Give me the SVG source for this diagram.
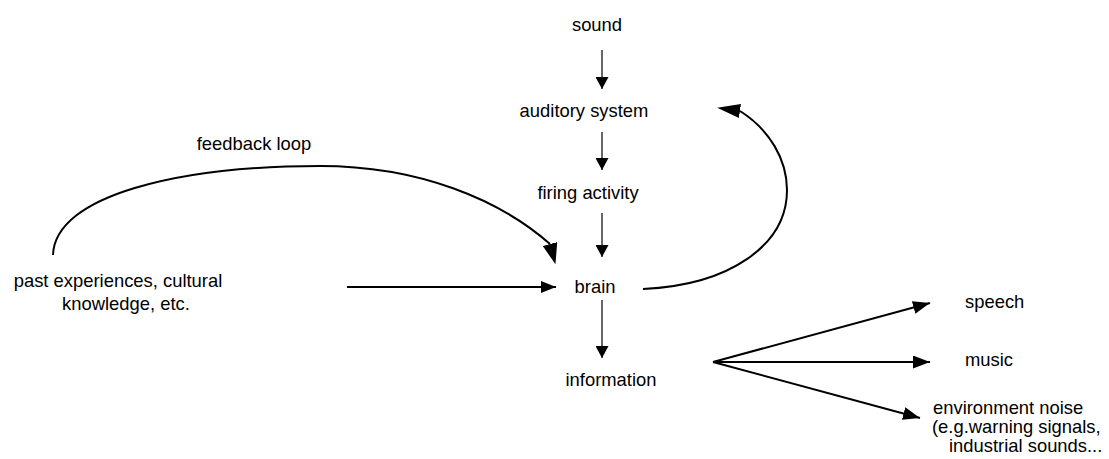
<svg xmlns="http://www.w3.org/2000/svg" width="1109" height="459" viewBox="0 0 1109 459">
<defs>
<style>
text{font-family:"Liberation Sans",Arial,sans-serif;font-size:18.4px;fill:#000}
.c{text-anchor:middle}
.l{fill:none;stroke:#000;stroke-width:1.2}
.t{fill:none;stroke:#000;stroke-width:2}
</style>
<marker id="a" viewBox="0 0 12 13" refX="12" refY="6.5" markerWidth="12" markerHeight="13" markerUnits="userSpaceOnUse" orient="auto"><path d="M0,0 L12,6.5 L0,13 Z" fill="#000"/></marker>
<marker id="b" viewBox="0 0 17 13" refX="17" refY="6.5" markerWidth="17" markerHeight="13" markerUnits="userSpaceOnUse" orient="auto"><path d="M0,0 L17,6.5 L0,13 Z" fill="#000"/></marker>
<marker id="h" viewBox="0 0 15 12" refX="15" refY="6" markerWidth="15" markerHeight="12" markerUnits="userSpaceOnUse" orient="auto"><path d="M0,0 L15,6 L0,12 Z" fill="#000"/></marker>
<marker id="f" viewBox="0 0 21 15" refX="0" refY="7.5" markerWidth="21" markerHeight="15" markerUnits="userSpaceOnUse" orient="75"><path d="M0,0 L21,7.5 L0,15 Z" fill="#000"/></marker>
<marker id="r" viewBox="0 0 23 14" refX="0" refY="7" markerWidth="23" markerHeight="14" markerUnits="userSpaceOnUse" orient="188"><path d="M0,0 L23,7 L0,14 Z" fill="#000"/></marker>
</defs>
<rect width="1109" height="459" fill="#fff"/>
<g id="sound"><text class="c" x="597" y="31">sound</text></g>
<g id="auditory"><text class="c" x="584" y="117">auditory system</text></g>
<g id="firing"><text class="c" x="588" y="199">firing activity</text></g>
<g id="brain"><text class="c" x="595" y="293">brain</text></g>
<g id="information"><text class="c" x="611" y="386">information</text></g>
<g id="past"><text class="c" x="118" y="287">past experiences, cultural</text><text class="c" x="126" y="310">knowledge, etc.</text></g>
<g id="feedback"><text class="c" x="254" y="150">feedback loop</text></g>
<g id="speech"><text x="965" y="308">speech</text></g>
<g id="music"><text x="965" y="366">music</text></g>
<g id="noise"><text x="933" y="414">environment noise</text><text x="932" y="433">(e.g.warning signals,</text><text x="949" y="452">industrial sounds...</text></g>
<g id="connectors">
<path class="l" d="M602,50 V89" marker-end="url(#a)"/>
<path class="l" d="M602,132 V170" marker-end="url(#a)"/>
<path class="l" d="M602,213 V257" marker-end="url(#a)"/>
<path class="l" d="M602,300 V358" marker-end="url(#a)"/>
<path class="t" d="M347,287 H556" marker-end="url(#h)"/>
<path class="t" d="M53,255 C55,195 180,166 320,166 C420,166 500,200 550,244" marker-end="url(#f)"/>
<path class="t" d="M643,289 C730,285 787,245 787,190 C787,160 770,130 740,111" marker-end="url(#r)"/>
<path class="t" d="M713,362 L930,303" marker-end="url(#b)"/>
<path class="t" d="M713,362 H930" marker-end="url(#b)"/>
<path class="t" d="M713,362 L920,418" marker-end="url(#b)"/>
</g>
</svg>
